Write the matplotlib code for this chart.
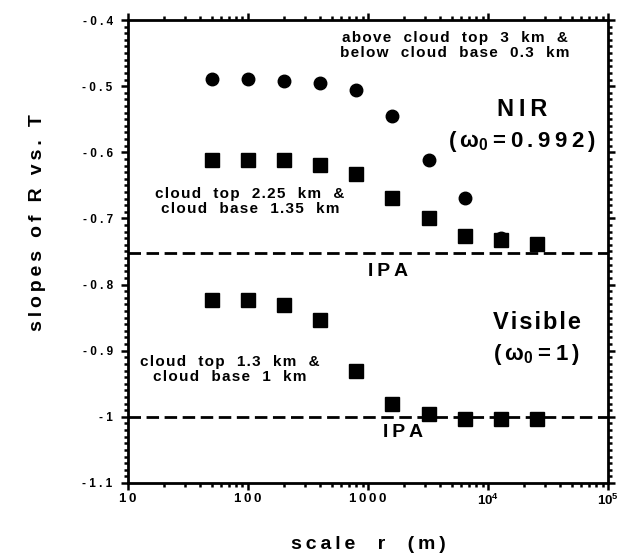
## --- SLOPES OF R VS. T AGAINST SCALE --- ##
import matplotlib
matplotlib.use('Agg')
import matplotlib.pyplot as plt
from matplotlib.ticker import FixedLocator, MultipleLocator, NullFormatter

# -- DATA -- #
scale_r = [50, 100, 200, 400, 800, 1600, 3200, 6400, 12800, 25600]
nir_above = [-0.489, -0.489, -0.492, -0.495, -0.506, -0.545, -0.611, -0.669, -0.729]
nir_inside = [-0.612, -0.612, -0.612, -0.619, -0.633, -0.669, -0.699, -0.727, -0.733, -0.739]
vis_inside = [-0.823, -0.823, -0.831, -0.853, -0.930, -0.980, -0.996, -1.003, -1.003, -1.003]
ipa_nir = -0.753
ipa_vis = -1.0

xtick_vals = [10, 100, 1000, 1e4, 1e5]
xtick_labels = ['10', '100', '1000', r'10$^4$', r'10$^5$']
ytick_vals = [-0.4, -0.5, -0.6, -0.7, -0.8, -0.9, -1.0, -1.1]
ytick_labels = ['-0.4', '-0.5', '-0.6', '-0.7', '-0.8', '-0.9', '-1', '-1.1']

HAIR = '\u200a'
THIN = '\u2009'


def track(s, sp=HAIR):
    """ spread the letters of a plain string a little apart """
    return sp.join(s)


# -- STYLE -- #
plt.rcParams['font.family'] = ['Liberation Sans', 'DejaVu Sans']
plt.rcParams['font.weight'] = 'bold'
plt.rcParams['mathtext.fontset'] = 'custom'
plt.rcParams['mathtext.rm'] = 'Liberation Sans:bold'
plt.rcParams['mathtext.bf'] = 'Liberation Sans:bold'
plt.rcParams['mathtext.it'] = 'Liberation Sans:bold'
plt.rcParams['mathtext.default'] = 'bf'

fig = plt.figure(figsize=(6.38, 5.59), dpi=100)
ax = fig.add_axes([0.2006, 0.136, 0.7524, 0.8282])

ax.plot(scale_r[:len(nir_above)], nir_above, 'o', color='black', markersize=9)
ax.plot(scale_r, nir_inside, 's', color='black', markersize=10.5)
ax.plot(scale_r, vis_inside, 's', color='black', markersize=10.5)
ax.axhline(ipa_nir, color='black', linewidth=2, dashes=(4.5, 2))
ax.axhline(ipa_vis, color='black', linewidth=2, dashes=(4.5, 2))

ax.set_xscale('log')
ax.set_xlim(10, 1e5)
ax.set_ylim(-1.1, -0.4)

ax.xaxis.set_major_locator(FixedLocator(xtick_vals))
ax.set_xticklabels([track(t, THIN) if '$' not in t else t for t in xtick_labels],
                   fontsize=9.5, fontweight='bold')
ax.xaxis.set_minor_formatter(NullFormatter())
ax.yaxis.set_major_locator(FixedLocator(ytick_vals))
ax.set_yticklabels([track(t, ' ') for t in ytick_labels], fontsize=8.5, fontweight='bold')
ax.yaxis.set_minor_locator(MultipleLocator(0.01))

ax.tick_params(which='both', direction='out', top=True, right=True,
               labeltop=False, labelright=False, width=1.8)
ax.tick_params(which='major', length=5, pad=2)
ax.tick_params(which='minor', length=3)
ax.tick_params(axis='y', which='major', pad=6)
for sp in ax.spines.values():
    sp.set_linewidth(2)

# -- ANNOTATIONS -- #
ax.text(5300, -0.439, track('above  cloud  top  3  km  &') + '\n' +
        track('below  cloud  base  0.3  km'),
        fontsize=11, ha='center', va='center', linespacing=1.1)
ax.text(104, -0.675, track('cloud  top  2.25  km  &') + '\n' + track('cloud  base  1.35  km'),
        fontsize=11, ha='center', va='center', linespacing=1.1)
ax.text(71, -0.929, track('cloud  top  1.3  km  &') + '\n' + track('cloud  base  1  km'),
        fontsize=11, ha='center', va='center', linespacing=1.1)
ax.text(19200, -0.536, track('NIR', THIN), fontsize=17, ha='center', va='center')
ax.text(19200, -0.584, '(' + THIN + r'$\omega_0$' + THIN + track('=0.992)', THIN),
        fontsize=16, ha='center', va='center')
ax.text(25600, -0.858, track('Visible', HAIR), fontsize=17, ha='center', va='center')
ax.text(25600, -0.906, '(' + THIN + r'$\omega_0$' + THIN + track('=1)', THIN),
        fontsize=16, ha='center', va='center')
ax.text(1470, -0.781, track('IPA', THIN), fontsize=14, ha='center', va='center')
ax.text(1950, -1.024, track('IPA', THIN), fontsize=14, ha='center', va='center')

ax.set_ylabel(track('slopes of R vs. T', THIN), fontsize=14, fontweight='bold')
ax.yaxis.set_label_coords(-0.17, 0.5616)
ax.set_xlabel(track('scale  r  (m)', THIN), fontsize=14, fontweight='bold', labelpad=20)

plt.savefig('out.png', dpi=100)
plt.close(fig)
